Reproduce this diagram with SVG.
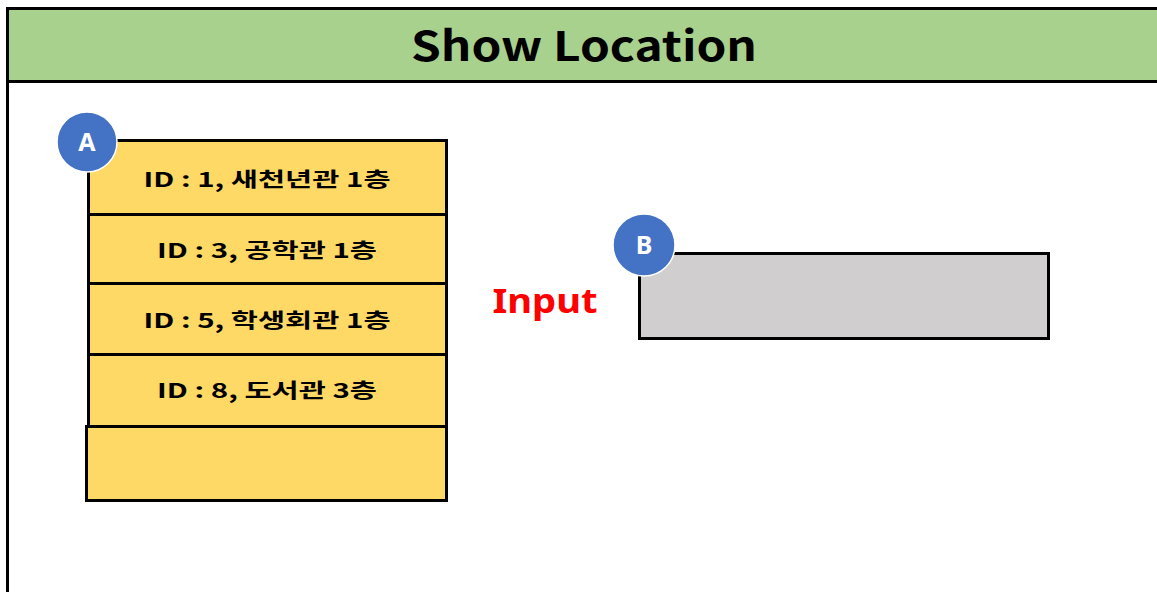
<svg xmlns="http://www.w3.org/2000/svg" width="1157" height="592" viewBox="0 0 1157 592">
<style>
.frame{fill:#fff;stroke:#000;stroke-width:3}
.hdr{fill:#A9D18E;stroke:#000;stroke-width:3}
.row{fill:#FFD966;stroke:#000;stroke-width:3}
.inp{fill:#D0CECE;stroke:#000;stroke-width:3}
.badge{fill:#4472C4;stroke:#fff;stroke-width:1.5}
.t{font-family:"Noto Sans CJK KR","Noto Sans",sans-serif;font-weight:bold;text-anchor:middle;fill:#000}
.bt{font-family:"Noto Sans","Liberation Sans",sans-serif;font-weight:bold;text-anchor:middle;fill:#fff;font-size:25px}
</style>
<rect width="1157" height="592" fill="#fff"/>
<g id="frame">
<rect class="frame" x="7.5" y="8.5" width="1160" height="600"/>
<rect class="hdr" x="7.5" y="8.5" width="1160" height="73"/>
<text class="t" x="584" y="61" font-size="41" textLength="346" lengthAdjust="spacingAndGlyphs">Show Location</text>
</g>
<g id="list">
<rect class="row" x="88.5" y="140.5" width="358" height="74"/>
<rect class="row" x="88.5" y="214.5" width="358" height="69"/>
<rect class="row" x="88.5" y="283.5" width="358" height="71"/>
<rect class="row" x="88.5" y="354.5" width="358" height="72"/>
<rect class="row" x="86.5" y="426.5" width="360" height="74"/>
<text class="t" x="267" y="187" font-size="20" textLength="247" lengthAdjust="spacingAndGlyphs">ID : 1, 새천년관 1층</text>
<text class="t" x="267" y="258" font-size="20" textLength="220" lengthAdjust="spacingAndGlyphs">ID : 3, 공학관 1층</text>
<text class="t" x="267" y="328" font-size="20" textLength="247" lengthAdjust="spacingAndGlyphs">ID : 5, 학생회관 1층</text>
<text class="t" x="267" y="398" font-size="20" textLength="220" lengthAdjust="spacingAndGlyphs">ID : 8, 도서관 3층</text>
</g>
<g id="badgeA">
<circle class="badge" cx="87" cy="142" r="30"/>
<text class="bt" x="87" y="151">A</text>
</g>
<g id="input">
<text x="545" y="313" font-family="Noto Sans, Liberation Sans, sans-serif" font-weight="bold" font-size="34" fill="#FF0000" text-anchor="middle" textLength="105" lengthAdjust="spacingAndGlyphs">Input</text>
<rect class="inp" x="639.5" y="253.5" width="409" height="85"/>
</g>
<g id="badgeB">
<circle class="badge" cx="644" cy="245" r="31"/>
<text class="bt" x="644" y="254">B</text>
</g>
</svg>
